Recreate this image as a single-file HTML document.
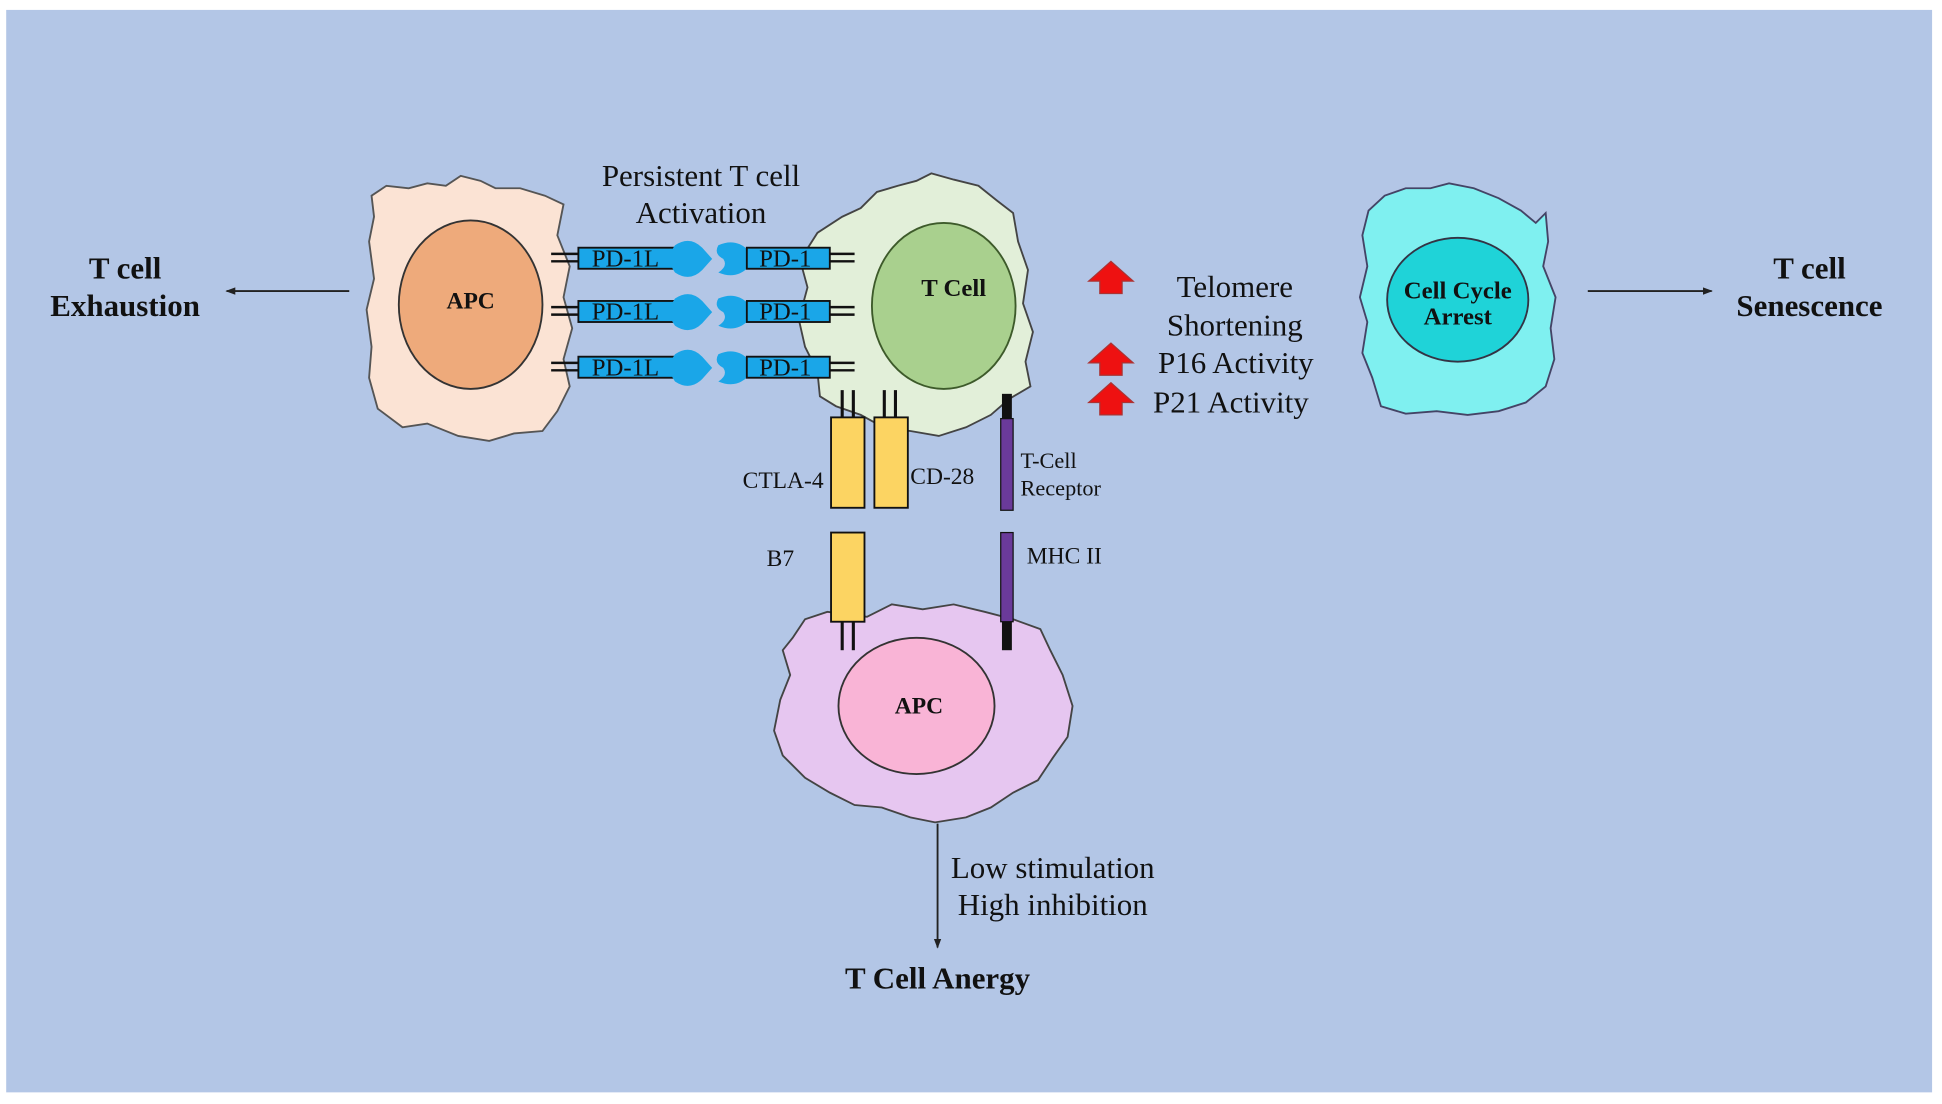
<!DOCTYPE html>
<html><head><style>
html,body{margin:0;padding:0;background:#fff;}
svg{display:block;}
text{font-family:"Liberation Serif",serif;fill:#111;}
.b{font-weight:bold;}
</style></head><body>
<svg width="1942" height="1104" viewBox="0 0 1568 891.4" preserveAspectRatio="none">
<defs>
<marker id="ah" markerWidth="8" markerHeight="8" refX="7" refY="4" orient="auto" markerUnits="userSpaceOnUse"><path d="M0,1 L8,4 L0,7 Z" fill="#222"/></marker>
</defs>
<rect x="0" y="0" width="1568" height="891.4" fill="#fff"/>
<rect x="5" y="8" width="1555" height="874" fill="#b3c6e6"/>

<!-- bottom APC (drawn first so receptors overlay) -->
<path d="M640,515 L650,500 L668,494 L700,498 L720,488 L745,492 L770,488 L795,494 L818,500 L840,508 L848,525 L858,545 L866,570 L862,595 L850,612 L838,630 L818,640 L800,652 L780,660 L755,664 L735,660 L712,652 L690,650 L670,640 L650,628 L632,610 L625,590 L630,565 L638,545 L632,525 Z" fill="#e6c6f0" stroke="#444" stroke-width="1.5"/>
<ellipse cx="740" cy="570" rx="63" ry="55" fill="#f9b4d6" stroke="#333" stroke-width="1.5"/>
<text x="742" y="576" font-size="19" class="b" text-anchor="middle">APC</text>

<!-- left APC -->
<path d="M300,158 L312,150 L330,152 L345,148 L360,150 L372,142 L388,146 L400,152 L420,152 L440,158 L455,165 L450,190 L460,215 L455,240 L462,265 L455,290 L460,312 L450,332 L438,348 L415,350 L395,356 L370,352 L345,342 L325,345 L305,330 L298,305 L300,280 L296,250 L302,225 L298,195 L302,175 Z" fill="#fbe3d4" stroke="#555" stroke-width="1.5"/>
<ellipse cx="380" cy="246" rx="58" ry="68" fill="#eeaa7b" stroke="#333" stroke-width="1.5"/>
<text x="380" y="249" font-size="19" class="b" text-anchor="middle">APC</text>

<!-- T cell -->
<path d="M660,188 L680,175 L695,168 L708,155 L725,150 L740,146 L752,140 L770,145 L790,150 L805,162 L818,172 L822,195 L830,218 L826,245 L834,268 L828,292 L832,312 L815,322 L800,335 L780,345 L758,352 L735,348 L715,346 L695,335 L675,328 L662,320 L660,300 L650,280 L645,258 L652,232 L646,210 Z" fill="#e2efd9" stroke="#444" stroke-width="1.5"/>
<ellipse cx="762" cy="247" rx="58" ry="67" fill="#a9d08e" stroke="#3d5a2a" stroke-width="1.5"/>
<text x="770" y="239" font-size="20" class="b" text-anchor="middle">T Cell</text>

<!-- PD rows -->
<g id="row">
<line x1="445" y1="205" x2="467" y2="205" stroke="#111" stroke-width="2"/>
<line x1="445" y1="211" x2="467" y2="211" stroke="#111" stroke-width="2"/>
<rect x="467" y="200" width="78" height="17" fill="#1aa6e8" stroke="#111" stroke-width="1.5"/>
<text x="505" y="215" font-size="20" text-anchor="middle" fill="#113">PD-1L</text>
<path d="M545,198 q12,-8 22,2 l8,9 l-8,9 q-10,10 -22,2 q-8,-11 0,-22z" fill="#1aa6e8"/>
<path d="M580,198 q14,-6 24,4 l0,14 q-10,10 -24,4 q8,-5 4,-11 q-8,-4 -4,-11z" fill="#1aa6e8"/>
<rect x="603" y="200" width="67" height="17" fill="#1aa6e8" stroke="#111" stroke-width="1.5"/>
<text x="634" y="215" font-size="20" text-anchor="middle" fill="#113">PD-1</text>
<line x1="670" y1="205" x2="690" y2="205" stroke="#111" stroke-width="2"/>
<line x1="670" y1="211" x2="690" y2="211" stroke="#111" stroke-width="2"/>
</g>
<use href="#row" transform="translate(0,43)"/>
<use href="#row" transform="translate(0,88)"/>

<!-- CTLA-4 / CD-28 -->
<g stroke="#111" stroke-width="2.5">
<line x1="680" y1="315" x2="680" y2="337"/><line x1="689" y1="315" x2="689" y2="337"/>
<line x1="714" y1="315" x2="714" y2="337"/><line x1="723" y1="315" x2="723" y2="337"/>
<line x1="680" y1="502" x2="680" y2="525"/><line x1="689" y1="502" x2="689" y2="525"/>
</g>
<rect x="671" y="337" width="27" height="73" fill="#fcd462" stroke="#111" stroke-width="1.5"/>
<rect x="706" y="337" width="27" height="73" fill="#fcd462" stroke="#111" stroke-width="1.5"/>
<rect x="671" y="430" width="27" height="72" fill="#fcd462" stroke="#111" stroke-width="1.5"/>
<rect x="809" y="318" width="8" height="20" fill="#111"/>
<rect x="808" y="338" width="10" height="74" fill="#6a3a9a" stroke="#111" stroke-width="1"/>
<rect x="808" y="430" width="10" height="72" fill="#6a3a9a" stroke="#111" stroke-width="1"/>
<rect x="809" y="502" width="8" height="23" fill="#111"/>
<text x="665" y="394" font-size="19" text-anchor="end">CTLA-4</text>
<text x="735" y="391" font-size="19">CD-28</text>
<text x="824" y="378" font-size="18">T-Cell</text>
<text x="824" y="400" font-size="18">Receptor</text>
<text x="619" y="457" font-size="19">B7</text>
<text x="829" y="455" font-size="19">MHC II</text>

<!-- cell cycle arrest -->
<path d="M1105,170 L1118,158 L1135,152 L1155,152 L1170,148 L1190,152 L1210,160 L1228,170 L1240,180 L1248,172 L1250,195 L1246,215 L1256,240 L1252,265 L1255,290 L1248,312 L1232,325 L1210,332 L1185,335 L1160,332 L1135,334 L1115,328 L1108,305 L1100,285 L1104,260 L1098,240 L1104,215 L1100,190 Z" fill="#7ff0f0" stroke="#446" stroke-width="1.5"/>
<ellipse cx="1177" cy="242" rx="57" ry="50" fill="#1fd3d8" stroke="#334" stroke-width="1.5"/>
<text x="1177" y="241" font-size="20" class="b" text-anchor="middle">Cell Cycle</text>
<text x="1177" y="262" font-size="20" class="b" text-anchor="middle">Arrest</text>

<!-- arrows -->
<line x1="282" y1="235" x2="183" y2="235" stroke="#222" stroke-width="1.5" marker-end="url(#ah)"/>
<line x1="1282" y1="235" x2="1382" y2="235" stroke="#222" stroke-width="1.5" marker-end="url(#ah)"/>
<line x1="757" y1="665" x2="757" y2="765" stroke="#222" stroke-width="1.5" marker-end="url(#ah)"/>

<!-- red arrows -->
<g fill="#ee1111" stroke="#a33" stroke-width="1">
<path d="M897,211 L915,227 L906,227 L906,237 L888,237 L888,227 L879,227 Z"/>
<path d="M897,277 L915,293 L906,293 L906,303 L888,303 L888,293 L879,293 Z"/>
<path d="M897,309 L915,325 L906,325 L906,335 L888,335 L888,325 L879,325 Z"/>
</g>

<!-- texts -->
<text x="566" y="150" font-size="25" text-anchor="middle">Persistent T cell</text>
<text x="566" y="180" font-size="25" text-anchor="middle">Activation</text>
<text x="101" y="225" font-size="25" class="b" text-anchor="middle">T cell</text>
<text x="101" y="255" font-size="25" class="b" text-anchor="middle">Exhaustion</text>
<text x="1461" y="225" font-size="25" class="b" text-anchor="middle">T cell</text>
<text x="1461" y="255" font-size="25" class="b" text-anchor="middle">Senescence</text>
<text x="997" y="240" font-size="25" text-anchor="middle">Telomere</text>
<text x="997" y="271" font-size="25" text-anchor="middle">Shortening</text>
<text x="935" y="301" font-size="25">P16 Activity</text>
<text x="931" y="333" font-size="25">P21 Activity</text>
<text x="850" y="709" font-size="25" text-anchor="middle">Low stimulation</text>
<text x="850" y="739" font-size="25" text-anchor="middle">High inhibition</text>
<text x="757" y="798" font-size="25" class="b" text-anchor="middle">T Cell Anergy</text>
</svg>
</body></html>
